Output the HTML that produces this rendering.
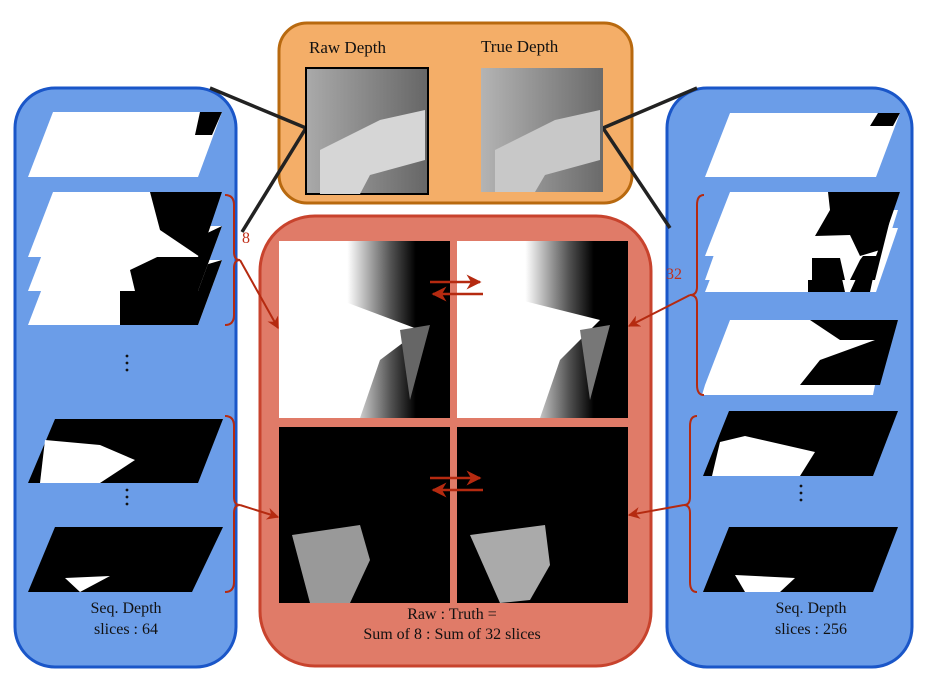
<!DOCTYPE html>
<html><head><meta charset="utf-8"><style>
html,body{margin:0;padding:0;background:#fff;width:925px;height:676px;overflow:hidden}
text{font-family:"Liberation Serif",serif;fill:#111}
</style></head><body>
<svg width="925" height="676" viewBox="0 0 925 676" xmlns="http://www.w3.org/2000/svg">
<defs>
<linearGradient id="g1" x1="0" y1="0" x2="1" y2="0"><stop offset="0" stop-color="#aaa"/><stop offset="1" stop-color="#666"/></linearGradient>
<linearGradient id="g2" x1="0" y1="0" x2="1" y2="0"><stop offset="0" stop-color="#b4b4b4"/><stop offset="1" stop-color="#6a6a6a"/></linearGradient>
<linearGradient id="gw" x1="0" y1="0" x2="1" y2="0"><stop offset="0.4" stop-color="#fff"/><stop offset="0.65" stop-color="#555"/><stop offset="0.8" stop-color="#000"/></linearGradient>
<marker id="ar" viewBox="0 0 10 10" refX="9" refY="5" markerWidth="6" markerHeight="6" orient="auto"><path d="M0,0 L10,5 L0,10 L3,5z" fill="#b52a10"/></marker>
</defs>
<rect x="15" y="88" width="221" height="579" rx="40" fill="#6b9de8" stroke="#1a56c8" stroke-width="3"/>
<rect x="667" y="88" width="245" height="579" rx="40" fill="#6b9de8" stroke="#1a56c8" stroke-width="3"/>
<rect x="279" y="23" width="353" height="180" rx="28" fill="#f4ae68" stroke="#b8690f" stroke-width="3"/>
<rect x="260" y="216" width="391" height="450" rx="55" fill="#e07b68" stroke="#c8432d" stroke-width="3"/>
<g stroke="#222" stroke-width="3.5">
<line x1="210" y1="88" x2="306" y2="128"/><line x1="242" y1="232" x2="306" y2="128"/>
<line x1="603" y1="128" x2="697" y2="88"/><line x1="603" y1="128" x2="670" y2="228"/>
</g>
<text x="309" y="53" font-size="17">Raw Depth</text>
<text x="481" y="52" font-size="17">True Depth</text>
<rect x="306" y="68" width="122" height="126" fill="url(#g1)" stroke="#000" stroke-width="2"/>
<path d="M320 150 L380 120 L425 110 L425 160 L370 175 L360 194 L320 194Z" fill="#d6d6d6"/>
<rect x="481" y="68" width="122" height="124" fill="url(#g2)"/>
<path d="M495 150 L555 120 L600 110 L600 160 L545 175 L535 192 L495 192Z" fill="#c8c8c8"/>
<rect x="279" y="241" width="171" height="177" fill="url(#gw)"/>
<path d="M290 320 L340 300 L420 330 L380 360 L360 418 L290 418Z" fill="#fff"/>
<path d="M400 330 L430 325 L410 400 Z" fill="#666"/>
<rect x="457" y="241" width="171" height="177" fill="url(#gw)"/>
<path d="M457 320 L520 300 L600 320 L560 360 L540 418 L457 418Z" fill="#fff"/>
<path d="M580 330 L610 325 L590 400 Z" fill="#777"/>
<rect x="279" y="427" width="171" height="176" fill="#000"/>
<path d="M292 535 L360 525 L370 560 L350 603 L310 603Z" fill="#999"/>
<rect x="457" y="427" width="171" height="176" fill="#000"/>
<path d="M470 535 L545 525 L550 565 L530 600 L500 603Z" fill="#aaa"/>
<g stroke="#b52a10" stroke-width="2.5" fill="none">
<line x1="430" y1="282" x2="480" y2="282" marker-end="url(#ar)"/>
<line x1="483" y1="294" x2="433" y2="294" marker-end="url(#ar)"/>
<line x1="430" y1="478" x2="480" y2="478" marker-end="url(#ar)"/>
<line x1="483" y1="490" x2="433" y2="490" marker-end="url(#ar)"/>
</g>
<text x="452" y="619" font-size="16" text-anchor="middle">Raw : Truth =</text>
<text x="452" y="639" font-size="16" text-anchor="middle">Sum of 8 : Sum of 32 slices</text>
<g>
<polygon points="53,112 222,112 198,177 28,177" fill="#fff"/>
<polygon points="200,112 222,112 212,135 195,135" fill="#000"/>
<polygon points="53,260 222,260 198,325 28,325" fill="#fff"/><polygon points="120,290 222,260 198,325 120,325" fill="#000"/>
<polygon points="53,226 222,226 198,291 28,291" fill="#fff"/><polygon points="130,270 222,226 198,291 135,291" fill="#000"/>
<polygon points="53,192 222,192 198,257 28,257" fill="#fff"/><polygon points="150,192 222,192 200,257 160,230" fill="#000"/>
<polygon points="55,419 223,419 198,483 28,483" fill="#000"/><polygon points="40,483 45,440 100,445 135,460 100,483" fill="#fff"/>
<polygon points="55,527 223,527 192,592 28,592" fill="#000"/><polygon points="65,578 110,576 80,592" fill="#fff"/>
</g>
<g fill="#111"><circle cx="127" cy="356" r="1.4"/><circle cx="127" cy="363" r="1.4"/><circle cx="127" cy="370" r="1.4"/>
<circle cx="127" cy="490" r="1.4"/><circle cx="127" cy="497" r="1.4"/><circle cx="127" cy="504" r="1.4"/>
<circle cx="801" cy="486" r="1.4"/><circle cx="801" cy="493" r="1.4"/><circle cx="801" cy="500" r="1.4"/></g>
<text x="126" y="613" font-size="16" text-anchor="middle">Seq. Depth</text>
<text x="126" y="634" font-size="16" text-anchor="middle">slices : 64</text>
<g>
<polygon points="730,113 900,113 876,177 705,177" fill="#fff"/><polygon points="878,113 900,113 893,126 870,126" fill="#000"/>
<polygon points="730,228 898,228 876,292 705,292" fill="#fff"/><polygon points="808,270 840,270 845,292 808,292" fill="#000"/><polygon points="860,270 880,245 870,292 850,292" fill="#000"/>
<polygon points="730,210 898,210 876,280 705,280" fill="#fff"/><polygon points="812,258 840,258 845,280 812,280" fill="#000"/><polygon points="860,260 890,220 875,280 850,280" fill="#000"/>
<polygon points="730,192 900,192 876,256 705,256" fill="#fff"/><polygon points="828,192 900,192 880,250 860,256 850,235 815,236 830,210" fill="#000"/>
<polygon points="730,320 898,320 876,385 705,385" fill="#fff"/><polygon points="810,320 898,320 880,385 800,385 820,360 875,340 840,340" fill="#000"/>
<polygon points="705,385 875,385 873,395 702,395" fill="#fff"/>
<polygon points="729,411 898,411 873,476 703,476" fill="#000"/><polygon points="712,476 720,442 745,436 815,452 800,476" fill="#fff"/>
<polygon points="729,527 898,527 873,592 703,592" fill="#000"/><polygon points="735,575 795,578 780,592 745,592" fill="#fff"/>
</g>
<text x="811" y="613" font-size="16" text-anchor="middle">Seq. Depth</text>
<text x="811" y="634" font-size="16" text-anchor="middle">slices : 256</text>
<g stroke="#b52a10" stroke-width="2" fill="none">
<path d="M225,195 Q234,195 234,205 L234,252 Q234,260 240,260 Q234,260 234,268 L234,315 Q234,325 225,325"/>
<path d="M225,416 Q234,416 234,426 L234,497 Q234,505 240,505 Q234,505 234,513 L234,582 Q234,592 225,592"/>
<path d="M704,195 Q697,195 697,205 L697,287 Q697,295 690,295 Q697,295 697,303 L697,385 Q697,395 704,395"/>
<path d="M697,416 Q690,416 690,426 L690,497 Q690,505 684,505 Q690,505 690,513 L690,582 Q690,592 697,592"/>
<line x1="240" y1="260" x2="278" y2="328" marker-end="url(#ar)"/>
<line x1="240" y1="505" x2="278" y2="517" marker-end="url(#ar)"/>
<line x1="690" y1="295" x2="629" y2="326" marker-end="url(#ar)"/>
<line x1="684" y1="505" x2="629" y2="515" marker-end="url(#ar)"/>
</g>
<text x="242" y="243" font-size="16" style="fill:#c0301a">8</text>
<text x="666" y="279" font-size="16" style="fill:#c0301a">32</text>
</svg>
</body></html>
